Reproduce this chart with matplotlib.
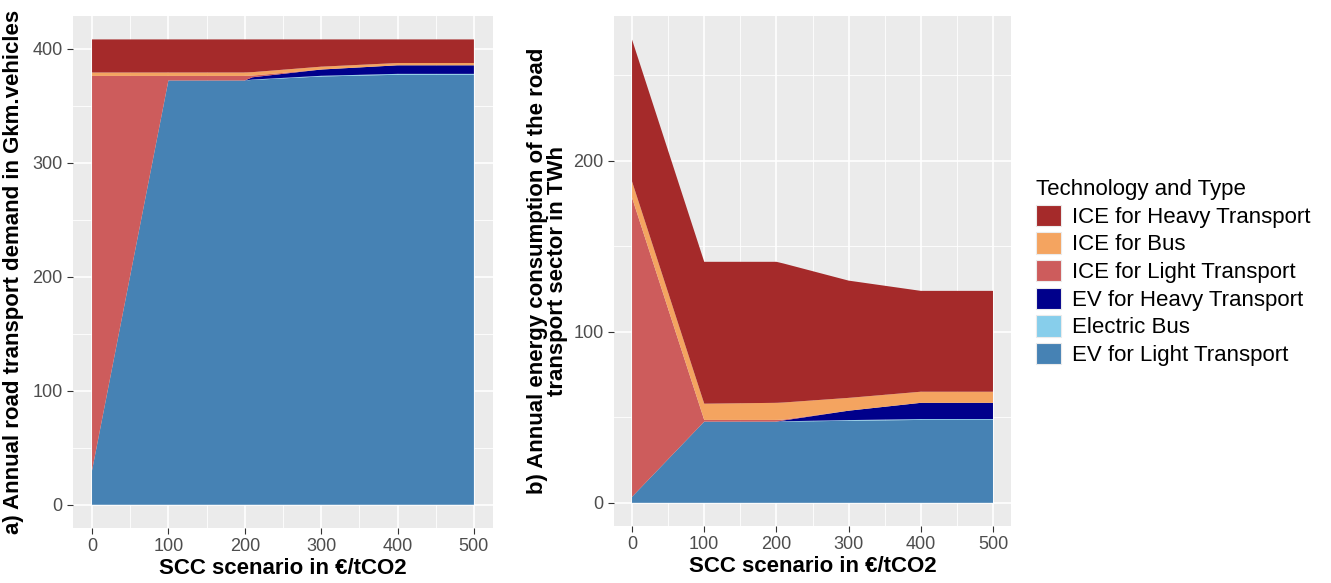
import numpy as np
import matplotlib.pyplot as plt
from matplotlib.patches import Patch

plt.rcParams['font.family'] = ['Liberation Sans', 'DejaVu Sans']

# SCC scenarios (EUR/tCO2)
scc = [0, 100, 200, 210, 300, 400, 500]

# a) road transport demand, Gkm.vehicles
dem_ev_light = [30, 372, 372, 372.5, 375.5, 377, 377]
dem_e_bus = [0, 0, 0, 0.3, 0.6, 0.8, 0.8]
dem_ev_heavy = [0, 0, 0, 2, 5.5, 7.5, 7.5]
dem_ice_light = [346, 4, 4, 1.5, 0, 0, 0]
dem_ice_bus = [3, 3, 3, 3, 2.5, 2, 2]
dem_total = [408, 408, 408, 408, 408, 408, 408]

# b) energy consumption, TWh
en_ev_light = [3.5, 47.5, 47.5, 47.5, 48, 48.5, 48.5]
en_e_bus = [0, 0, 0, 0.2, 0.4, 0.5, 0.5]
en_ev_heavy = [0, 0, 0, 0.5, 5.5, 9.5, 9.5]
en_ice_light = [175, 1, 1, 0.5, 0, 0, 0]
en_ice_bus = [9.5, 9.5, 10, 10, 7.5, 6.5, 6.5]
en_total = [271, 141, 141, 140, 130, 124, 124]

names = ['EV for Light Transport', 'Electric Bus', 'EV for Heavy Transport',
         'ICE for Light Transport', 'ICE for Bus', 'ICE for Heavy Transport']
colors = ['#4682B4', '#87CEEB', '#00008B', '#CD5C5C', '#F4A460', '#A52A2A']


def heavy_rest(total, *parts):
    return np.array(total) - np.sum(parts, axis=0)


dem = [dem_ev_light, dem_e_bus, dem_ev_heavy, dem_ice_light, dem_ice_bus]
dem.append(heavy_rest(dem_total, *dem))
en = [en_ev_light, en_e_bus, en_ev_heavy, en_ice_light, en_ice_bus]
en.append(heavy_rest(en_total, *en))

fig = plt.figure(figsize=(13.31, 5.83), dpi=100)
ax1 = fig.add_axes([0.0548, 0.0943, 0.3156, 0.878])
ax2 = fig.add_axes([0.4613, 0.0978, 0.2983, 0.874])


def style(ax, ymax, ymajor, yminor):
    ax.set_facecolor('#EBEBEB')
    for s in ax.spines.values():
        s.set_visible(False)
    ax.set_xlim(-25, 525)
    ax.set_ylim(-ymax * 0.05, ymax * 1.05)
    ax.set_xticks([0, 100, 200, 300, 400, 500])
    ax.set_xticks([50, 150, 250, 350, 450], minor=True)
    ax.set_yticks(ymajor)
    ax.set_yticks(yminor, minor=True)
    ax.grid(which='major', color='white', lw=1.2)
    ax.grid(which='minor', color='white', lw=0.6)
    ax.set_axisbelow(True)
    ax.tick_params(which='major', labelsize=13, labelcolor='#4D4D4D',
                   color='#333333', length=4, width=0.8)
    ax.tick_params(which='minor', length=0)
    ax.set_xlabel('SCC scenario in €/tCO2', fontsize=16, fontweight='bold', labelpad=2)


ax1.stackplot(scc, *dem, colors=colors, linewidth=0)
style(ax1, 408, [0, 100, 200, 300, 400], [50, 150, 250, 350])
ax1.set_ylabel('a) Annual road transport demand in Gkm.vehicles',
               fontsize=16, fontweight='bold', labelpad=6)

ax2.stackplot(scc, *en, colors=colors, linewidth=0)
style(ax2, 271, [0, 100, 200], [50, 150, 250])
ax2.set_ylabel('b) Annual energy consumption of the road\ntransport sector in TWh',
               fontsize=16, fontweight='bold', labelpad=4, linespacing=0.95,
               multialignment='center')

handles = [Patch(facecolor=c, edgecolor='#EBEBEB', lw=0.8, label=n)
           for c, n in zip(colors[::-1], names[::-1])]
leg = fig.legend(handles=handles, loc='upper left', bbox_to_anchor=(0.772, 0.708),
                 frameon=False, fontsize=16, title='Technology and Type',
                 title_fontsize=16, handlelength=1.1, handleheight=1.1,
                 labelspacing=0.2, handletextpad=0.5, borderaxespad=0)
leg._legend_box.align = 'left'

fig.savefig('out.png', dpi=100)
